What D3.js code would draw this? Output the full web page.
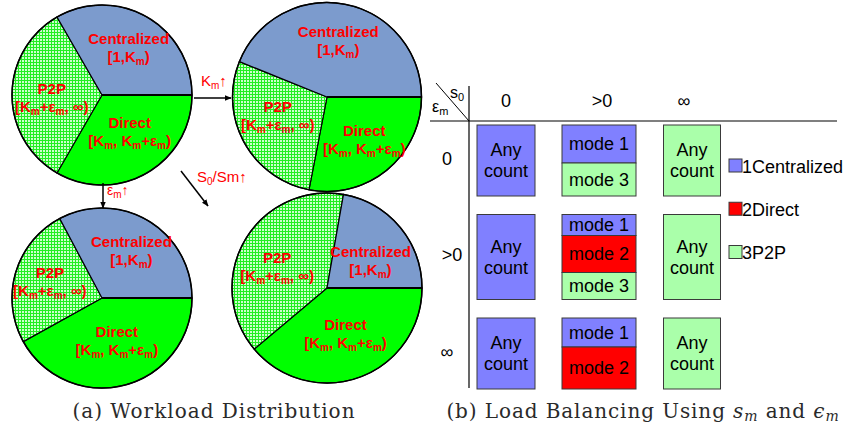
<!DOCTYPE html>
<html>
<head>
<meta charset="utf-8">
<script src="https://cdn.jsdelivr.net/npm/d3@7"></script>
<style>
  html, body { margin: 0; padding: 0; background: #fff; }
  svg { display: block; }
</style>
</head>
<body>
<svg id="fig" width="850" height="431"></svg>
<script>
// ---- Workload distribution pies: slice sizes in degrees, clockwise from 3 o'clock ----
const sliceNames  = ["Direct", "P2P", "Centralized"];
const sliceRanges = ["[K_m, K_m+ε_m)", "[K_m+ε_m, ∞)", "[1,K_m)"];
const pieStart  = [120, 120, 120];
const pieKmUp   = [101, 101, 158];
const pieEpsUp  = [151,  91, 118];
const pieSUp    = [140, 140,  80];
const transitionLabels = ["K_m↑", "ε_m↑", "S_0/Sm↑"];

// ---- Load balancing table ----
const colHeads = ["0", ">0", "∞"];          // s0
const rowHeads = ["0", ">0", "∞"];          // εm
const cellModes = [
  [[1], [1, 3], [3]],
  [[1], [1, 2, 3], [3]],
  [[1], [1, 2], [3]]
];
const cellShares = [
  [[1], [38, 33], [1]],
  [[1], [21, 37, 27], [1]],
  [[1], [29, 42], [1]]
];
const legendLabels = ["1Centralized", "2Direct", "3P2P"];
const captionA = "(a) Workload Distribution";
const captionB = "(b) Load Balancing Using ";

const svg = d3.select("#fig");
const defs = svg.append("defs");
const sans = "'Liberation Sans', Arial, sans-serif";

// fine grid hatch used for the P2P slices
const hatch = defs.append("pattern")
  .attr("id", "grid").attr("patternUnits", "userSpaceOnUse")
  .attr("width", 3).attr("height", 3);
hatch.append("rect").attr("width", 3).attr("height", 3).attr("fill", "#ccffcc");
hatch.append("rect").attr("width", 3).attr("height", 1).attr("fill", "#22ee22");
hatch.append("rect").attr("width", 1).attr("height", 3).attr("fill", "#22ee22");

defs.append("marker")
  .attr("id", "arrow").attr("viewBox", "0 0 10 10")
  .attr("refX", 9).attr("refY", 5)
  .attr("markerWidth", 7).attr("markerHeight", 7)
  .attr("markerUnits", "userSpaceOnUse")
  .attr("orient", "auto")
  .append("path").attr("d", "M0,1 L10,5 L0,9 Z").attr("fill", "#000");

const sliceFill = { Direct: "#00ff00", P2P: "url(#grid)", Centralized: "#7c9bcd" };

// text with "_x" subscripts
function richText(sel, str, subSize, drop) {
  const parts = str.split(/(_[0-9a-z])/).filter(p => p.length);
  let shifted = false;
  parts.forEach(p => {
    if (p[0] === "_") {
      sel.append("tspan").attr("font-size", subSize).attr("dy", drop).text(p.slice(1));
      shifted = true;
    } else {
      const t = sel.append("tspan").text(p);
      if (shifted) { t.attr("dy", -drop); shifted = false; }
    }
  });
}

// pie placement; nudge = label shift from the slice centroid, per slice
const pies = [
  { values: pieStart, cx: 102, cy: 95,  r: 90,
    nudge: [[2, -11], [1, -1], [1, -7]] },
  { values: pieKmUp,  cx: 327, cy: 97,  r: 94.5,
    nudge: [[3, -3], [-2, -11], [1, -7]] },
  { values: pieEpsUp, cx: 102, cy: 298, r: 90,
    nudge: [[2, -11], [-3, -5], [3, -7]] },
  { values: pieSUp,   cx: 327, cy: 288, r: 95,
    nudge: [[0, -9], [-3, 2], [2, 4]] }
];

const pieGen = d3.pie().sort(null).value(d => d)
  .startAngle(Math.PI / 2).endAngle(Math.PI / 2 + 2 * Math.PI);

pies.forEach(p => {
  const g = svg.append("g").attr("transform", `translate(${p.cx},${p.cy})`);
  const arc = d3.arc().innerRadius(0).outerRadius(p.r);
  const labelArc = d3.arc().innerRadius(p.r * 0.57).outerRadius(p.r * 0.57);
  const arcs = pieGen(p.values);
  g.selectAll("path.slice").data(arcs).join("path")
    .attr("class", "slice")
    .attr("d", arc)
    .attr("fill", (d, i) => sliceFill[sliceNames[i]])
    .attr("stroke", "#000").attr("stroke-width", 1.2);
  g.append("circle").attr("r", p.r).attr("fill", "none")
    .attr("stroke", "#000").attr("stroke-width", 1.5);
  // boundary at 3 o'clock drawn slightly heavier
  g.append("line").attr("x1", 0).attr("y1", 0).attr("x2", p.r).attr("y2", 0)
    .attr("stroke", "#000").attr("stroke-width", 2);

  arcs.forEach((d, i) => {
    const [cx, cy] = labelArc.centroid(d);
    const lx = cx + p.nudge[i][0], ly = cy + p.nudge[i][1];
    g.append("text").attr("x", lx).attr("y", ly)
      .attr("text-anchor", "middle")
      .attr("font-family", sans)
      .attr("font-weight", "bold").attr("font-size", 15).attr("fill", "#ff0000")
      .text(sliceNames[i]);
    const t2 = g.append("text").attr("x", lx).attr("y", ly + 18)
      .attr("text-anchor", "middle")
      .attr("font-family", sans)
      .attr("font-weight", "bold").attr("font-size", 15).attr("fill", "#ff0000");
    richText(t2, sliceRanges[i], 10, 3);
  });
});

// transition arrows between pies
const arrows = [
  { x1: 194, y1: 98,  x2: 231, y2: 98,  lx: 201, ly: 86 },
  { x1: 103, y1: 183, x2: 103, y2: 208, lx: 107, ly: 195 },
  { x1: 181, y1: 171, x2: 208, y2: 206, lx: 197, ly: 182 }
];
arrows.forEach((a, i) => {
  svg.append("line")
    .attr("x1", a.x1).attr("y1", a.y1).attr("x2", a.x2).attr("y2", a.y2)
    .attr("stroke", "#000").attr("stroke-width", 1.5)
    .attr("marker-end", "url(#arrow)");
  const t = svg.append("text").attr("x", a.lx).attr("y", a.ly)
    .attr("font-family", sans)
    .attr("font-size", i === 1 ? 14 : 15).attr("fill", "#ff0000");
  richText(t, transitionLabels[i], 10, 3);
});

// ---- table ----
const modeColor = { 1: "#8080ff", 2: "#ff0000", 3: "#aaffaa" };
const colWidths = [58, 74, 57];
const rowHeights = [71, 85, 71];
const x = d3.scalePoint().domain(colHeads).range([506, 692]);
const y = d3.scalePoint().domain(rowHeads).range([160.5, 353.5]);

const tbl = svg.append("g");
// frame lines
tbl.append("line").attr("x1", 469).attr("y1", 86).attr("x2", 469).attr("y2", 388)
  .attr("stroke", "#000").attr("stroke-width", 1.2);
tbl.append("line").attr("x1", 430).attr("y1", 121).attr("x2", 837).attr("y2", 121)
  .attr("stroke", "#000").attr("stroke-width", 1.2);
tbl.append("line").attr("x1", 436).attr("y1", 83).attr("x2", 469).attr("y2", 121)
  .attr("stroke", "#000").attr("stroke-width", 1);
const sHead = tbl.append("text").attr("x", 450).attr("y", 98)
  .attr("font-family", sans).attr("font-size", 16);
richText(sHead, "s_0", 11, 3);
const eHead = tbl.append("text").attr("x", 432).attr("y", 112)
  .attr("font-family", sans).attr("font-size", 16);
richText(eHead, "ε_m", 11, 3);

tbl.selectAll("text.col").data(colHeads).join("text")
  .attr("class", "col")
  .attr("x", (d, i) => x(d) + (i === 1 ? 3 : i === 2 ? -8 : 0))
  .attr("y", 107).attr("text-anchor", "middle")
  .attr("font-family", sans).attr("font-size", 18)
  .text(d => d);
tbl.selectAll("text.row").data(rowHeads).join("text")
  .attr("class", "row")
  .attr("x", (d, i) => i === 1 ? 452 : 447)
  .attr("y", d => y(d) + 4).attr("text-anchor", "middle")
  .attr("font-family", sans).attr("font-size", 18)
  .text(d => d);

rowHeads.forEach((rh, ri) => {
  colHeads.forEach((ch, ci) => {
    const w = colWidths[ci], h = rowHeights[ri];
    const x0 = x(ch) - w / 2, y0 = y(rh) - h / 2;
    const modes = cellModes[ri][ci], shares = cellShares[ri][ci];
    const total = d3.sum(shares);
    const ys = d3.scaleLinear().domain([0, total]).range([y0, y0 + h]);
    let acc = 0;
    modes.forEach((m, k) => {
      const a = acc, b = acc + shares[k];
      acc = b;
      tbl.append("rect")
        .attr("x", x0).attr("y", ys(a)).attr("width", w).attr("height", ys(b) - ys(a))
        .attr("fill", modeColor[m]).attr("stroke", "#3a3a3a").attr("stroke-width", 1);
      if (modes.length > 1) {
        tbl.append("text").attr("x", x0 + w / 2).attr("y", (ys(a) + ys(b)) / 2 + 6)
          .attr("text-anchor", "middle").attr("font-family", sans).attr("font-size", 18)
          .text("mode " + m);
      }
    });
    if (modes.length === 1) {
      const cy = y0 + h / 2;
      tbl.append("text").attr("x", x0 + w / 2).attr("y", cy - 4.5)
        .attr("text-anchor", "middle").attr("font-family", sans).attr("font-size", 18)
        .text("Any");
      tbl.append("text").attr("x", x0 + w / 2).attr("y", cy + 16.5)
        .attr("text-anchor", "middle").attr("font-family", sans).attr("font-size", 18)
        .text("count");
    }
  });
});

// legend
const legY = d3.scalePoint().domain(legendLabels).range([165.5, 252]);
legendLabels.forEach((lab, i) => {
  tbl.append("rect").attr("x", 729).attr("y", legY(lab) - 6.5).attr("width", 13).attr("height", 13)
    .attr("fill", modeColor[i + 1]).attr("stroke", "#3a3a3a").attr("stroke-width", 1);
  tbl.append("text").attr("x", 742).attr("y", legY(lab) + 7)
    .attr("font-family", sans).attr("font-size", 18).text(lab);
});

// captions
const serif = "'DejaVu Serif', serif";
svg.append("text").attr("x", 214).attr("y", 418).attr("text-anchor", "middle")
  .attr("font-family", serif).attr("font-size", 20).attr("letter-spacing", 1)
  .attr("fill", "#2a2a2a")
  .text(captionA);
const cb = svg.append("text").attr("x", 643).attr("y", 418).attr("text-anchor", "middle")
  .attr("font-family", serif).attr("font-size", 20).attr("letter-spacing", 0.9)
  .attr("fill", "#2a2a2a");
cb.append("tspan").text(captionB);
cb.append("tspan").attr("font-style", "italic").text("s");
cb.append("tspan").attr("font-style", "italic").attr("font-size", 14).attr("dy", 3).text("m");
cb.append("tspan").attr("dy", -3).text(" and ");
cb.append("tspan").attr("font-style", "italic").text("ϵ");
cb.append("tspan").attr("font-style", "italic").attr("font-size", 14).attr("dy", 3).text("m");
</script>
</body>
</html>
